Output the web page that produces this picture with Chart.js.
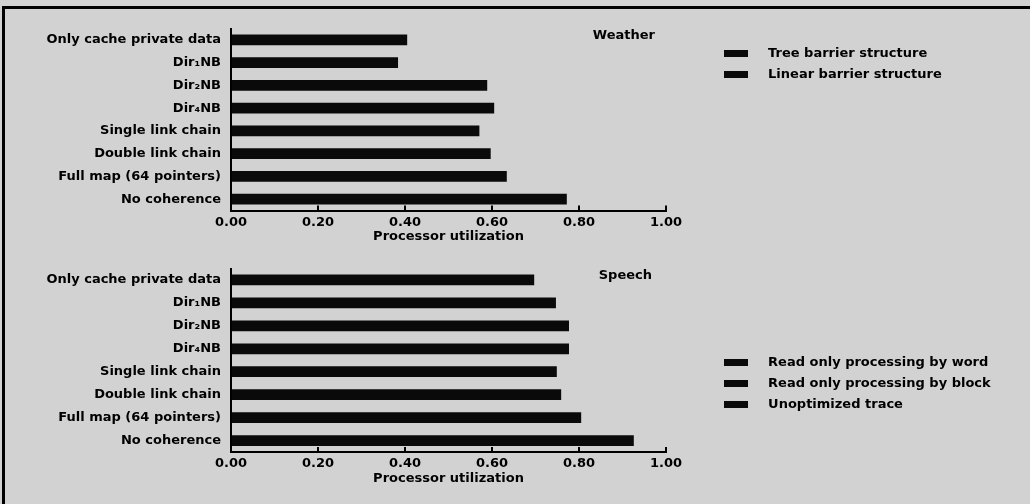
<!DOCTYPE html>
<html>
<head>
<meta charset="utf-8">
<script src="https://cdn.jsdelivr.net/npm/chart.js@4.4.1/dist/chart.umd.min.js"></script>
<style>
  html, body { margin: 0; padding: 0; background: #d2d2d2; }
  #page { position: relative; width: 1030px; height: 504px; overflow: hidden; }
  #frame { position: absolute; left: 2px; top: 6px; width: 1040px; height: 520px;
           border-top: 3px solid #000; border-left: 3px solid #000; }
  .panel { position: absolute; left: 0; width: 1030px; }
  #topPanel { top: 0; height: 252px; }
  #bottomPanel { top: 250px; height: 254px; }
</style>
</head>
<body>
<div id="page">
  <div id="frame"></div>
  <div class="panel" id="topPanel"><canvas id="weatherChart"></canvas></div>
  <div class="panel" id="bottomPanel"><canvas id="speechChart"></canvas></div>
</div>
<script>
"use strict";

let categories = ['Only cache private data', 'Dir₁NB', 'Dir₂NB', 'Dir₄NB',
    'Single link chain', 'Double link chain', 'Full map (64 pointers)', 'No coherence'];
let weatherValues = [0.405, 0.384, 0.589, 0.605, 0.571, 0.597, 0.634, 0.772];
let speechValues = [0.697, 0.747, 0.777, 0.777, 0.749, 0.759, 0.805, 0.926];
let weatherSeries = ['Tree barrier structure', 'Linear barrier structure'];
let speechSeries = ['Read only processing by word', 'Read only processing by block', 'Unoptimized trace'];
let xTicks = [0, 0.2, 0.4, 0.6, 0.8, 1.0];
let axisTitle = 'Processor utilization';

const boldFont = { family: '"DejaVu Sans", sans-serif', size: 13, weight: 'bold' };

// draws the panel name in the top right corner of the plot
const panelTitle = {
    id: 'panelTitle',
    afterDraw(chart, args, opts) {
        let ctx = chart.ctx;
        ctx.save();
        ctx.font = 'bold 13px "DejaVu Sans", sans-serif';
        ctx.fillStyle = '#000';
        ctx.textAlign = 'right';
        ctx.textBaseline = 'middle';
        ctx.fillText(opts.text, chart.chartArea.right - opts.dx, chart.chartArea.top + opts.dy);
        ctx.restore();
    }
};

// moves the legend out to the right hand column
const legendSpot = {
    id: 'legendSpot',
    beforeDraw(chart, args, opts) {
        let lg = chart.legend;
        let w = lg.right - lg.left;
        lg.left = opts.x;
        lg.right = opts.x + w;
        lg.top = opts.y;
        lg.bottom = opts.y + 200;
    }
};

function makeChart(canvasId, values, series, look) {
    const data = {
        labels: categories,
        datasets: [{
            label: series[0],
            data: values,
            backgroundColor: '#0a0a0a',
            borderWidth: 0,
            categoryPercentage: 1.0,
            barPercentage: 0.47
        }]
    };
    const config = {
        type: 'bar',
        data: data,
        plugins: [panelTitle, legendSpot],
        options: {
            indexAxis: 'y',
            responsive: true,
            maintainAspectRatio: false,
            animation: false,
            layout: { padding: { left: 0, right: 364, top: look.padTop, bottom: look.padBottom } },
            scales: {
                x: {
                    min: 0,
                    max: 1,
                    afterBuildTicks(scale) {
                        scale.ticks = xTicks.map(v => ({ value: v }));
                    },
                    afterFit(scale) { scale.height = look.xHeight; },
                    border: { display: true, color: '#000', width: 2 },
                    grid: { display: true, drawOnChartArea: false, drawTicks: true,
                        tickLength: -5, color: '#000', lineWidth: 2 },
                    ticks: {
                        color: '#000', font: boldFont, padding: 9,
                        callback: (v) => Number(v).toFixed(2)
                    },
                    title: { display: true, text: axisTitle, color: '#000', font: boldFont,
                        padding: { top: 0, bottom: 0 } }
                },
                y: {
                    afterFit(scale) { scale.width = 231; },
                    border: { display: true, color: '#000', width: 2 },
                    grid: { display: false, drawTicks: false },
                    ticks: { color: '#000', font: boldFont, padding: 10 }
                }
            },
            plugins: {
                legend: {
                    position: 'chartArea',
                    align: 'start',
                    labels: {
                        font: boldFont,
                        color: '#000',
                        boxWidth: 24,
                        boxHeight: 7,
                        padding: 8,
                        generateLabels: () => series.map((name, i) => ({
                            text: '   ' + name,
                            fillStyle: '#0a0a0a',
                            strokeStyle: '#0a0a0a',
                            lineWidth: 0,
                            hidden: false,
                            datasetIndex: 0,
                            index: i
                        }))
                    },
                    onClick: () => {}
                },
                tooltip: { enabled: false },
                panelTitle: { text: look.text, dx: look.dx, dy: look.dy },
                legendSpot: { x: look.legendX, y: look.legendY }
            }
        }
    };
    return new Chart(document.getElementById(canvasId), config);
}

makeChart('weatherChart', weatherValues, weatherSeries,
    { text: 'Weather', dx: 11, dy: 7, padTop: 28.5, padBottom: 7.2, xHeight: 34.3,
      legendX: 716, legendY: 39 });
makeChart('speechChart', speechValues, speechSeries,
    { text: 'Speech', dx: 14, dy: 7, padTop: 18.5, padBottom: 17.2, xHeight: 34.8,
      legendX: 716, legendY: 98 });
</script>
</body>
</html>
